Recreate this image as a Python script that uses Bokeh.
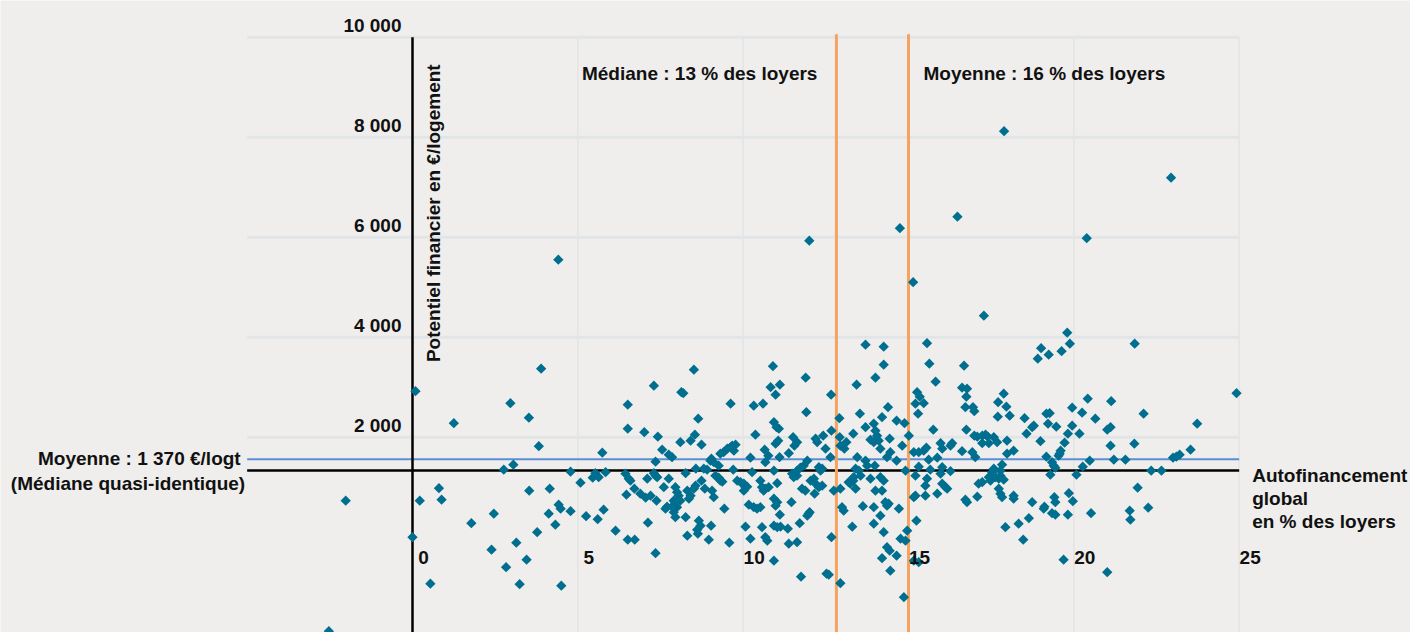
import numpy as np
from bokeh.plotting import figure
from bokeh.models import Range1d, Label, LabelSet, ColumnDataSource
from bokeh.core.properties import value
from bokeh.embed import file_html
from bokeh.resources import INLINE

# Autofinancement global (% des loyers) and potentiel financier (EUR/logement)
autofin_pct = [
    0.09, 2.96, 3.52, 1.25, 3.82, 2.76, 3.05, 0.80, 0.22, 0.88, -2.02, 3.53, 2.46, 1.78, 3.77, 0.00,
    3.14, 2.39, 3.45, 2.83, 0.54, 3.24, -2.53, 4.50, 4.41, 3.89, 8.51, 4.15, 4.12, 4.42, 4.48, 4.32,
    4.78, 4.78, 5.08, 5.25, 5.45, 5.53, 5.63, 5.84, 5.74, 5.78, 5.60, 6.14, 6.51, 6.51, 6.44, 6.54,
    6.59, 6.47, 6.51, 6.72, 7.30, 7.01, 7.42, 7.35, 7.55, 7.75, 7.85, 8.13, 8.19, 8.10, 8.41, 8.54,
    8.74, 8.64, 6.71, 6.89, 7.05, 7.20, 7.10, 7.35, 7.40, 7.30, 7.38, 7.60, 7.75, 7.95, 8.00, 7.90,
    8.05, 8.10, 7.85, 7.95, 8.00, 7.70, 7.65, 7.95, 7.90, 8.26, 8.31, 8.41, 8.36, 8.51, 8.56, 8.26,
    7.12, 7.35, 8.31, 8.66, 8.71, 8.61, 8.63, 8.57, 8.74, 8.84, 8.81, 8.91, 9.04, 9.11, 9.01, 9.26,
    9.16, 9.26, 9.31, 9.37, 9.06, 9.11, 9.03, 8.96, 9.31, 9.41, 9.52, 9.62, 9.67, 9.77, 9.72, 9.62,
    9.70, 9.43, 9.58, 9.82, 9.92, 10.02, 10.07, 10.12, 10.02, 10.22, 10.27, 10.37, 10.32, 10.60,
    10.07, 10.17, 10.32, 10.42, 10.52, 10.22, 10.52, 10.57, 10.67, 10.77, 10.62, 10.57, 10.67, 10.73,
    10.65, 10.76, 10.67, 10.83, 11.11, 10.98, 10.93, 11.01, 11.08, 11.06, 10.98, 11.10, 10.93, 11.03,
    10.93, 11.03, 10.98, 11.11, 10.93, 11.03, 11.13, 10.93, 11.38, 11.35, 11.38, 11.51, 11.63, 11.55,
    11.48, 11.53, 11.63, 11.46, 11.63, 11.75, 11.91, 11.83, 11.94, 11.73, 11.63, 11.88, 11.78, 12.04,
    12.14, 11.94, 11.98, 12.01, 11.71, 12.19, 12.24, 12.42, 12.29, 12.39, 12.34, 12.19, 12.16, 12.29,
    12.39, 12.49, 12.64, 12.67, 12.66, 12.74, 12.67, 12.52, 12.59, 12.94, 12.91, 12.92, 12.94, 13.06,
    13.12, 12.94, 12.99, 13.04, 13.30, 13.33, 13.45, 13.43, 13.53, 13.40, 13.50, 13.33, 13.24, 13.19,
    13.34, 13.55, 13.40, 13.62, 13.70, 13.70, 13.75, 13.85, 13.95, 13.95, 14.00, 14.05, 14.10, 13.85,
    13.98, 13.95, 13.95, 14.15, 14.15, 14.20, 14.38, 14.43, 14.45, 14.35, 14.15, 14.25, 14.00, 14.20,
    14.30, 14.35, 14.40, 14.25, 14.35, 14.43, 14.20, 14.45, 14.64, 14.88, 14.81, 14.64, 14.71, 14.64,
    14.76, 14.91, 14.96, 14.86, 15.01, 14.91, 15.16, 15.31, 15.46, 15.54, 15.26, 15.34, 15.21, 15.46,
    15.29, 15.75, 15.61, 15.87, 15.21, 15.31, 15.56, 15.51, 15.87, 15.16, 15.21, 15.51, 15.24, 15.16,
    15.31, 15.82, 15.97, 16.02, 16.32, 16.27, 15.97, 16.02, 15.66, 16.27, 16.02, 16.12, 16.17, 16.62,
    16.77, 16.75, 16.72, 16.95, 16.99, 16.75, 16.99, 17.08, 17.23, 17.33, 17.40, 17.23, 17.43, 16.62,
    16.93, 17.02, 17.58, 17.68, 17.71, 17.88, 17.96, 18.06, 17.70, 17.83, 17.78, 17.58, 17.53, 17.63,
    17.78, 17.88, 17.73, 17.43, 17.48, 17.98, 17.98, 18.18, 17.23, 17.12, 17.73, 17.78, 17.83, 17.08,
    16.72, 16.77, 17.93, 18.18, 18.18, 18.33, 18.47, 18.64, 18.74, 18.51, 18.57, 18.74, 18.79, 18.99,
    19.11, 19.09, 19.17, 19.27, 19.22, 19.17, 19.34, 19.39, 19.44, 19.29, 19.41, 19.44, 19.34, 19.44,
    19.47, 19.60, 19.57, 19.54, 19.72, 19.82, 19.82, 19.85, 19.97, 19.95, 19.95, 20.08, 20.17, 20.25,
    20.27, 20.42, 20.48, 20.52, 20.65, 19.69, 21.01, 21.11, 21.13, 21.11, 21.21, 21.01, 21.56, 21.83,
    21.93, 21.69, 21.71, 22.11, 22.25, 22.34, 22.65, 23.00, 23.10, 23.20, 23.53, 23.73, 24.92, 15.14,
    17.28, 13.70, 14.25, 14.25, 15.56, 15.63, 16.68, 14.00, 10.90, 11.89, 19.80, 19.88, 19.63, 19.24,
    19.01, 18.91, 21.84, 12.00, 14.74, 16.48, 17.89, 20.39, 22.94,
]
potentiel_eur = [
    2920, 2680, 2390, 2280, 1820, 1350, 1450, 980, 730, 750, 730, 930, 470, 280, 100, 0,
    -110, -250, -450, -600, -930, -940, -1880, -970, 5550, 3370, 3350, 970, 470, 650, 570, 250,
    1310, 520, 1090, 420, 1190, 1280, 1200, 1300, 1690, 550, 360, 130, 2650, 2170, 1270, 1170,
    1130, 850, -50, -50, 3030, 2100, 2010, 1510, 1750, 1650, 1600, 2900, 2880, 1900, 1930, 2050,
    1850, 2370, 970, 870, 790, 830, 1170, 1230, 1200, 1280, 730, 1000, 1170, 1000, 900, 730,
    830, 730, 610, 700, 600, 610, 570, 400, 500, 1280, 930, 830, 770, 970, 1030, 400,
    290, -320, 30, 330, 230, 150, 70, 1370, 1130, 970, 1370, 1350, 1570, 1500, 1530, 1430,
    1230, 1190, 1130, 1110, 930, 800, 230, -50, 1670, 1700, 1770, 1800, 1830, 1850, 1730, 2670,
    1350, 570, -110, 1130, 1100, 1070, 1000, 1010, 930, 1590, 1300, 2050, 2630, 2670,
    210, 650, 600, 570, 600, -30, 1130, 1000, 970, 1000, 930, 200, 0, -70,
    1750, 1630, 1500, 3000, 3050, 2850, 2300, 2200, 2170, 1930, 1870, 1600, 1330, 1080,
    770, 700, 630, 450, 230, 200, 210, -470, 1680, 170, -130, 2000, 1900, 1830,
    1270, 1200, 1230, 700, -100, -790, 2500, 1430, 1530, 1390, 1330, 930, 970, 1130,
    1170, 430, 470, 500, 280, 1970, 1900, 2030, 1400, 1370, 1330, 1070, 870, 1000,
    1030, 1770, 1600, 2130, 2850, 930, 0, -730, -750, -920, 2380, 2000, 1830, 1770,
    1900, 970, 600, 530, 210, 2070, 1600, 3050, 2470, 1370, 1330, 1130, 1070, 1100,
    1200, 1230, 970, 620, 2200, 1530, 1430, 1950, 1900, 2270, 2130, 2030, 1930, 1170,
    1430, 600, 270, 430, 1770, 2400, 2600, 1970, 1700, 1600, 1200, 1130, 930, 930,
    700, 630, 670, 100, -200, -270, -420, -670, 2330, 2280, 1830, 1530, 570, -370,
    -30, -70, 130, -1200, 2030, 1330, 1700, 1700, 1730, 1790, 2900, 2810, 2670, 2680,
    2470, 2150, 1550, 1590, 1230, 1410, 1170, 1030, 870, 800, 830, 830, 330, -470,
    -500, 3110, 1880, 1770, 1880, 1830, 1270, 1400, 1350, 1320, 1070, 1000, 970, 2990,
    2970, 2810, 2600, 2600, 2520, 2150, 2030, 2010, 2030, 2050, 2010, 1880, 1880, 1720,
    1700, 1600, 2000, 1900, 2700, 2870, 2610, 2430, 2410, 1450, 1330, 1370, 1300, 1200,
    1230, 1150, 1170, 1200, 1130, 1670, 1930, 1730, 1100, 1070, 970, 870, 800, 810,
    750, 700, 200, 830, 770, 270, -50, 380, 700, 2380, 2070, 2200, 2230, 1920,
    610, 570, 2470, 2480, 2270, 1610, 1500, 1430, 1390, 1250, 800, 700, 480, 450,
    2210, 1730, 1670, 1630, 1890, 2070, 450, 880, 720, 2590, 2230, 1250, 2070, 2490,
    1410, 2770, 1530, 480, 2370, -450, 2150, 2200, 2720, 1830, 1550, -700, 1550, 1870,
    990, 530, 350, 2470, 590, 1330, 1330, 1590, 1610, 1650, 1750, 2270, 2880, 5100,
    4430, 3850, 3810, 3450, 3880, 3470, 3430, 3190, 3420, 3190, 4090, 3870, 3720, 3650,
    3780, 3570, 3870, 5930, 6180, 6410, 8120, 5980, 7190,
]

x_ticks = [0, 5, 10, 15, 20, 25]
x_tick_labels = ["0", "5", "10", "15", "20", "25"]
y_ticks = [2000, 4000, 6000, 8000, 10000]
y_tick_labels = ["2 000", "4 000", "6 000", "8 000", "10 000"]
x_grid = [5, 10, 15, 20, 25]

x_min, x_max = -5, 25          # plotting area of the chart
y_max = 10000

median_pct = 12.82      # "Médiane : 13 % des loyers" (line as drawn)
mean_pct = 15.0         # "Moyenne : 16 % des loyers" (line as drawn)
mean_eur = 1560         # "Moyenne : 1 370 €/logt" (line as drawn)
axis_cross_eur = 1335   # horizontal axis position as drawn

BG = "#efeeec"
FONT = "Liberation Sans"
FS = "19px"
TXT = "#111111"

W, H = 1410, 632
px_per_pct = 992 / 30.0
x0_px, y0_px = 412.0, 536.7
xr = Range1d(-x0_px / px_per_pct, (W - x0_px) / px_per_pct)
yr = Range1d((y0_px - H) * 20, y0_px * 20)
y_bottom = yr.start

p = figure(width=W, height=H, x_range=xr, y_range=yr,
           x_axis_location=None, y_axis_location=None,
           output_backend="svg", toolbar_location=None,
           min_border=0, min_border_left=0, min_border_right=0, min_border_top=0, min_border_bottom=0,
           background_fill_color=BG, border_fill_color=BG, outline_line_color=None)
p.grid.visible = False

# grid lines of the plotting area
p.segment(x0=x_grid, x1=x_grid, y0=[y_bottom] * len(x_grid), y1=[y_max] * len(x_grid),
          line_color="#e4e4e4", line_width=1.5)
p.segment(x0=[x_min] * len(y_ticks), x1=[x_max] * len(y_ticks), y0=y_ticks, y1=y_ticks,
          line_color="#e2e5e8", line_width=3)

# mean line (blue), axes (black), median / mean lines (orange)
p.segment(x0=[x_min], x1=[x_max], y0=[mean_eur], y1=[mean_eur], line_color="#5b8fd5", line_width=2)
p.segment(x0=[x_min], x1=[x_max], y0=[axis_cross_eur], y1=[axis_cross_eur], line_color="black", line_width=2.5)
p.segment(x0=[0], x1=[0], y0=[y_bottom], y1=[y_max], line_color="black", line_width=2.5)
p.segment(x0=[median_pct, mean_pct], x1=[median_pct, mean_pct], y0=[y_bottom] * 2, y1=[y_max + 60] * 2,
          line_color="#f5a35f", line_width=3)

p.scatter(x=autofin_pct, y=potentiel_eur, marker="square", size=7.3, angle=np.pi / 4,
          fill_color="#006f8f", line_color=None)

common = dict(text_font_size=FS, text_font_style="bold", text_color=TXT)

ysrc = ColumnDataSource(dict(x=[0] * len(y_ticks), y=y_ticks, t=y_tick_labels))
p.add_layout(LabelSet(x="x", y="y", text="t", source=ysrc, x_offset=-11, y_offset=12,
                      text_font=value(FONT), text_align="right", text_baseline="middle", **common))
xsrc = ColumnDataSource(dict(x=x_ticks, y=[0] * len(x_ticks), t=x_tick_labels))
p.add_layout(LabelSet(x="x", y="y", text="t", source=xsrc, x_offset=11, y_offset=-20,
                      text_font=value(FONT), text_align="center", text_baseline="middle", **common))

p.add_layout(Label(x=median_pct, y=9270, x_offset=-19, text="Médiane : 13 % des loyers",
                   text_font=FONT, text_align="right", text_baseline="middle", **common))
p.add_layout(Label(x=mean_pct, y=9270, x_offset=15, text="Moyenne : 16 % des loyers",
                   text_font=FONT, text_align="left", text_baseline="middle", **common))
p.add_layout(Label(x=x_min, y=1580, x_offset=-6.5, text="Moyenne : 1 370 €/logt",
                   text_font=FONT, text_align="right", text_baseline="middle", **common))
p.add_layout(Label(x=x_min, y=1080, x_offset=-2, text="(Médiane quasi-identique)",
                   text_font=FONT, text_align="right", text_baseline="middle", **common))
for yy, t in zip([1230, 780, 310], ["Autofinancement", "global", "en % des loyers"]):
    p.add_layout(Label(x=x_max, y=yy, x_offset=13, text=t, text_font=FONT,
                       text_align="left", text_baseline="middle", **common))
p.add_layout(Label(x=0.65, y=6480, angle=np.pi / 2, text="Potentiel financier en €/logement",
                   text_font=FONT, text_align="center", text_baseline="middle", **common))

open("out.html", "w").write(file_html(p, INLINE))
